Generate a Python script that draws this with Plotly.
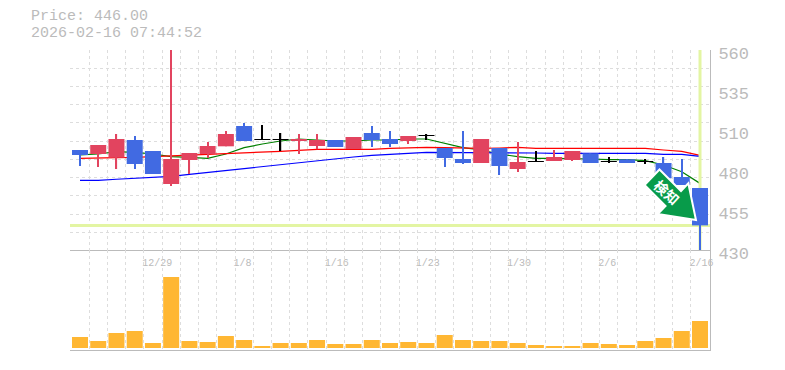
import plotly.graph_objects as go

day_index = list(range(35))
opens = [495, 492.4, 490, 501.5, 494.35, 472.9, 488.5, 492.4, 497.4, 510.6, 501.5, 501.5, 500.85, 497.6, 501.5, 495.65, 506.05, 502.15, 500.85, 504.1, 496.3, 489.15, 486.55, 496.3, 482.65, 487.2, 487.85, 488.5, 492.85, 487.2, 488.95, 487.2, 486.55, 477.45, 470.3]
closes = [491.75, 498.25, 502.15, 485.9, 479.4, 489.15, 493.05, 497.6, 505.4, 500.85, 501.5, 501.5, 502.15, 501.5, 496.95, 503.45, 501.5, 498.9, 504.1, 504.1, 489.8, 486.55, 502.15, 484.6, 487.2, 487.2, 490.45, 494.35, 486.55, 487.2, 486.55, 487.2, 476.6, 472.25, 446]
highs = [495, 498.25, 505.4, 504.1, 494.35, 560, 493.05, 500.2, 507.35, 512.55, 511.25, 506.05, 505.4, 505.4, 501.5, 503.45, 510.6, 507.35, 504.1, 505.4, 496.3, 507.35, 502.15, 496.3, 500.2, 494.35, 495, 494.35, 492.85, 490.45, 488.95, 489.15, 490.45, 489.15, 470.3]
lows = [484.6, 483.95, 482.65, 482.65, 479.4, 471.6, 479.4, 489.8, 497.4, 500.85, 501.5, 494.35, 492.4, 495.5, 496.95, 495.65, 496.95, 496.95, 498.9, 501.5, 483.95, 485.9, 486.55, 478.75, 480.7, 487.2, 487.85, 487.85, 486.55, 486.55, 486.55, 485.9, 476.6, 472.25, 430]
ma_green = [491.8, 492.4, 493.9, 493.5, 492.4, 490.7, 490.2, 489.6, 492.4, 496.5, 498.9, 500.85, 502.15, 501.5, 500.85, 500.85, 501.5, 501.5, 502.15, 502.15, 499.3, 496.5, 495, 492.4, 490.7, 489.6, 489.6, 489.6, 489.15, 488.7, 488.7, 488.1, 485.25, 480.9, 473.3]
ma_red = [489.6, 489.6, 490, 490.2, 490.7, 490.9, 491.3, 491.75, 492.2, 492.85, 493.5, 494.15, 494.8, 495.45, 495.45, 495.45, 495.45, 496.1, 496.5, 496.75, 496.5, 496.1, 496.1, 496.3, 496.75, 496.1, 496.1, 495.65, 495.65, 496.1, 496.1, 496.1, 495, 494.15, 491.5]
ma_blue = [475.3, 475.3, 476, 476.6, 477.25, 477.9, 479.2, 480.5, 481.8, 483.1, 484.4, 485.7, 487, 488.3, 489.6, 490.45, 491.55, 492.4, 492.85, 493.5, 493.5, 493.5, 493.5, 493.5, 493.5, 493.05, 492.85, 492.85, 492.85, 492.85, 492.85, 492.85, 492.2, 492.2, 490.9]
volumes = [110, 70, 150, 170, 50, 710, 70, 60, 120, 80, 20, 50, 50, 80, 40, 40, 80, 50, 60, 50, 130, 80, 70, 70, 50, 30, 20, 20, 50, 40, 30, 70, 100, 170, 270]
date_ticks = [3.5, 8.5, 13.5, 18.5, 23.5, 28.5, 33.5]
date_labels = ["12/29", "1/8", "1/16", "1/23", "1/30", "2/6", "2/16"]
price_ticks = [560, 534, 508, 482, 456, 430]
price_labels = ["560", "535", "510", "480", "455", "430"]
price_grid = [559.5, 547.8, 536.1, 524.4, 512.7, 500.6, 488.9, 477.2, 465.5, 453.2, 441.5]
day_grid = [i - 0.5 for i in day_index]
last_price = 446
title_lines = ["Price: 446.00", "2026-02-16 07:44:52"]

RED, BLUE, BLACK = "#E2445F", "#416AE2", "#000000"
GRAY, GRID, MARK = "#BBBBBB", "#DDDDDD", "#E3F5A3"
FONT = "Liberation Mono"

colors = [BLACK if o == c else (RED if c > o else BLUE) for o, c in zip(opens, closes)]
XR = [-0.548, 34.548]
PR = [430, 560]

fig = go.Figure()
for name, vals, col in [("MA5", ma_green, "#008000"), ("MA25", ma_red, "#FF0000"), ("MA75", ma_blue, "#0000FF")]:
    fig.add_trace(go.Scatter(x=day_index, y=vals, mode="lines", name=name, xaxis="x", yaxis="y",
                             line=dict(color=col, width=1.2)))
fig.add_trace(go.Scatter(x=XR, y=[last_price, last_price], mode="lines", xaxis="x", yaxis="y",
                         line=dict(color=MARK, width=3)))
fig.add_trace(go.Scatter(x=[day_index[-1], day_index[-1]], y=PR, mode="lines", xaxis="x", yaxis="y",
                         line=dict(color=MARK, width=3)))
fig.add_trace(go.Bar(x=day_index, base=lows, y=[h - l for h, l in zip(highs, lows)], width=0.07,
                     marker=dict(color=colors, line=dict(width=0)), xaxis="x", yaxis="y2"))
tops = [max(o, c) for o, c in zip(opens, closes)]
bots = [min(o, c) for o, c in zip(opens, closes)]
fig.add_trace(go.Bar(x=day_index, base=bots, y=[max(t - b, 0.65) for t, b in zip(tops, bots)], width=0.877,
                     marker=dict(color=colors, line=dict(width=0)), xaxis="x", yaxis="y2"))
fig.add_trace(go.Bar(x=day_index, y=volumes, width=0.877, marker=dict(color="#FFB733", line=dict(width=0)),
                     xaxis="x2", yaxis="y3"))

def px(x):
    return (x - 70) / 640
def py(y):
    return (350 - y) / 300

arrow = [(659.5, 169.5), (681, 191), (688.3, 183.3), (696, 220), (657.7, 214), (665.5, 206), (644.5, 185)]
path = "M " + " L ".join(f"{px(a):.4f},{py(b):.4f}" for a, b in arrow) + " Z"

annos = []
for t, y in zip(title_lines, [17, 33.5]):
    annos.append(dict(text=t, x=px(30), y=py(y), xref="paper", yref="paper", xanchor="left", yanchor="middle",
                      showarrow=False, borderpad=0, font=dict(family=FONT, size=15, color=GRAY)))
annos.append(dict(text="検知", x=px(667), y=py(192), xref="paper", yref="paper", textangle=42,
                  xanchor="center", yanchor="middle", showarrow=False,
                  font=dict(family="Noto Sans CJK JP", size=14, color="#FFFFFF", weight="bold")))

minor_x = dict(tickvals=day_grid, showgrid=True, griddash="3px,3px", gridcolor=GRID, gridwidth=1, ticks="")
fig.update_layout(
    width=777, height=362, margin=dict(l=62, r=75, t=42, b=20),
    paper_bgcolor="#FFFFFF", plot_bgcolor="#FFFFFF", showlegend=False, barmode="overlay",
    annotations=annos,
    shapes=[dict(type="path", path=path, xref="paper", yref="paper", fillcolor="#089B4A",
                 line=dict(color="#FFFFFF", width=2))],
    xaxis=dict(domain=[0, 1], range=XR, anchor="y", tickmode="array", tickvals=date_ticks, ticktext=date_labels,
               automargin=False, showgrid=False, zeroline=False, showline=True, linecolor=GRAY, linewidth=1, ticks="",
               ticklabelposition="outside right", ticklabelstandoff=3, ticklabelshift=-2,
               tickfont=dict(family=FONT, size=10, color=GRAY), minor=minor_x),
    xaxis2=dict(domain=[0, 1], range=XR, anchor="y3", showticklabels=False, showgrid=False, zeroline=False,
                automargin=False, showline=True, linecolor=GRAY, linewidth=1, ticks="", minor=minor_x),
    yaxis=dict(domain=[1/3, 1], range=PR, side="right", anchor="x", tickmode="array", tickvals=price_ticks,
               automargin=False, ticktext=price_labels, showgrid=False, zeroline=False, showline=True, linecolor=GRAY, linewidth=1,
               ticks="", ticklabelshift=3, ticklabelstandoff=4,
               tickfont=dict(family=FONT, size=17, color=GRAY),
               minor=dict(tickvals=price_grid, showgrid=True, griddash="3px,3px", gridcolor=GRID, gridwidth=1, ticks="")),
    yaxis2=dict(domain=[1/3, 1], range=PR, overlaying="y", side="right", visible=False, automargin=False),
    yaxis3=dict(domain=[0, 1/3], range=[-20, 980], side="right", anchor="x2", showticklabels=False, showgrid=False,
                automargin=False, zeroline=False, showline=True, linecolor=GRAY, linewidth=1, ticks=""),
)
fig.write_html("out.html")
